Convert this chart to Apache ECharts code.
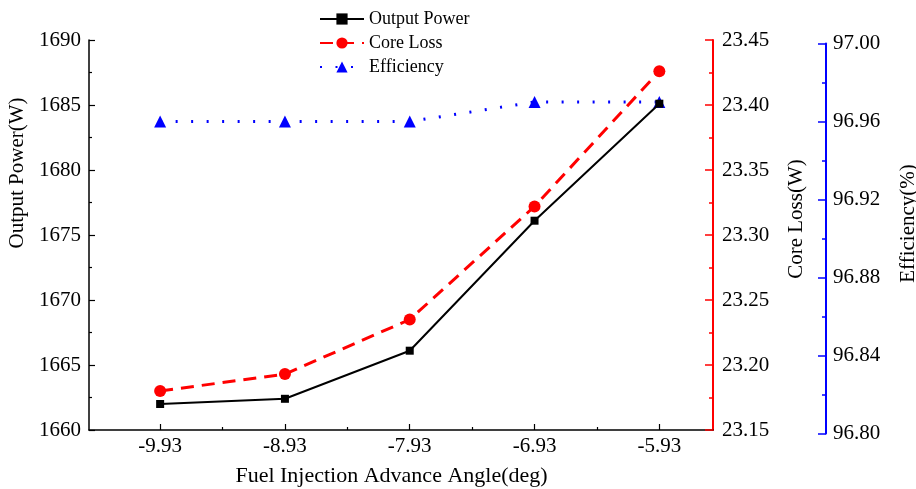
<!DOCTYPE html>
<html>
<head>
<meta charset="utf-8">
<script src="https://cdn.jsdelivr.net/npm/echarts@6/dist/echarts.min.js"></script>
<style>html,body{margin:0;padding:0;background:#fff;}#c{width:916px;height:489px;}</style>
</head>
<body>
<div id="c"></div>
<script>
const angles = [-9.93, -8.93, -7.93, -6.93, -5.93];
const outputPower = [1662.0, 1662.4, 1666.1, 1676.1, 1685.1];
const coreLoss = [23.180, 23.193, 23.235, 23.322, 23.426];
const efficiency = [96.960, 96.960, 96.960, 96.970, 96.970];
const minorAngles = [-9.43, -8.43, -7.43, -6.43];

const FONT = '"Liberation Serif", "Times New Roman", serif';
const pair = (vals) => angles.map((a, i) => [a, vals[i]]);

const chart = echarts.init(document.getElementById('c'), null, {renderer: 'canvas'});

chart.setOption({
  animation: false,
  backgroundColor: '#fff',
  textStyle: {fontFamily: FONT},
  legend: {
    orient: 'vertical', left: 314, top: 5, itemGap: 6,
    itemWidth: 44, itemHeight: 14,
    textStyle: {fontFamily: FONT, fontSize: 18, color: '#000'},
    data: ['Output Power', 'Core Loss', 'Efficiency']
  },
  grid: [
    {left: 89, right: 203, top: 40, bottom: 59, containLabel: false, outerBoundsMode: 'none'},
    {left: 89, right: 203, top: 43.5, bottom: 55.5, containLabel: false, outerBoundsMode: 'none'}
  ],
  xAxis: [
    {
      type: 'value', gridIndex: 0, min: -10.5, max: -5.5, position: 'bottom',
      name: 'Fuel Injection Advance Angle(deg)', nameLocation: 'middle', nameGap: 35,
      nameTextStyle: {fontFamily: FONT, fontSize: 22, color: '#000', padding: [0, 19, 0, 0]},
      axisLine: {show: true, onZero: false, lineStyle: {color: '#000', width: 1.5}},
      axisTick: {show: true, inside: true, length: 6, customValues: angles, lineStyle: {color: '#000', width: 1.2}},
      axisLabel: {customValues: angles, margin: 6, color: '#000', fontFamily: FONT, fontSize: 21},
      splitLine: {show: false}
    },
    {
      type: 'value', gridIndex: 0, min: -10.5, max: -5.5, position: 'bottom',
      axisLine: {show: false},
      axisTick: {show: true, inside: true, length: 3, customValues: minorAngles, lineStyle: {color: '#000', width: 1.2}},
      axisLabel: {show: false},
      splitLine: {show: false}
    },
    {
      type: 'value', gridIndex: 1, min: -10.5, max: -5.5, show: false
    }
  ],
  yAxis: [
    {
      type: 'value', gridIndex: 0, min: 1660, max: 1690, interval: 5, position: 'left',
      name: 'Output Power(W)', nameLocation: 'middle', nameGap: 57,
      nameTextStyle: {fontFamily: FONT, fontSize: 21, color: '#000', padding: [0, 0, 0, 124]},
      axisLine: {show: true, onZero: false, lineStyle: {color: '#000', width: 1.5}},
      axisTick: {show: true, inside: true, length: 6, lineStyle: {color: '#000', width: 1.2}},
      minorTick: {show: true, splitNumber: 2, length: 3, lineStyle: {color: '#000', width: 1.2}},
      axisLabel: {margin: 8, color: '#000', fontFamily: FONT, fontSize: 21, formatter: v => String(v)},
      splitLine: {show: false}, minorSplitLine: {show: false}
    },
    {
      type: 'value', gridIndex: 0, min: 23.15, max: 23.45, interval: 0.05, position: 'right',
      name: 'Core Loss(W)', nameLocation: 'middle', nameGap: 73,
      nameTextStyle: {fontFamily: FONT, fontSize: 21, color: '#000', padding: [0, 0, 0, 32]},
      axisLine: {show: true, onZero: false, lineStyle: {color: '#ff0000', width: 2}},
      axisTick: {show: true, inside: true, length: 8, lineStyle: {color: '#ff0000', width: 1.5}},
      minorTick: {show: true, splitNumber: 2, length: 4, lineStyle: {color: '#ff0000', width: 1.5}},
      axisLabel: {margin: 9, color: '#000', fontFamily: FONT, fontSize: 21, formatter: v => v.toFixed(2)},
      splitLine: {show: false}, minorSplitLine: {show: false}
    },
    {
      type: 'value', gridIndex: 1, min: 96.80, max: 97.00, interval: 0.04, position: 'right', offset: 113,
      name: 'Efficiency(%)', nameLocation: 'middle', nameGap: 72,
      nameTextStyle: {fontFamily: FONT, fontSize: 21, color: '#000', padding: [0, 0, 0, 30]},
      axisLine: {show: true, onZero: false, lineStyle: {color: '#0000ff', width: 2}},
      axisTick: {show: true, inside: true, length: 8, lineStyle: {color: '#0000ff', width: 1.5}},
      minorTick: {show: true, splitNumber: 2, length: 4, lineStyle: {color: '#0000ff', width: 1.5}},
      axisLabel: {margin: 7, color: '#000', fontFamily: FONT, fontSize: 21, formatter: v => v.toFixed(2)},
      splitLine: {show: false}, minorSplitLine: {show: false}
    }
  ],
  series: [
    {
      name: 'Output Power', type: 'line', xAxisIndex: 0, yAxisIndex: 0,
      data: pair(outputPower),
      symbol: 'rect', symbolSize: 8,
      itemStyle: {color: '#000'},
      lineStyle: {color: '#000', width: 2, type: 'solid'},
      z: 3
    },
    {
      name: 'Core Loss', type: 'line', xAxisIndex: 0, yAxisIndex: 1,
      data: pair(coreLoss),
      symbol: 'circle', symbolSize: 12,
      itemStyle: {color: '#ff0000'},
      lineStyle: {color: '#ff0000', width: 3, type: [13, 8]},
      z: 2
    },
    {
      name: 'Efficiency', type: 'line', xAxisIndex: 2, yAxisIndex: 2,
      data: pair(efficiency),
      symbol: 'triangle', symbolSize: 12,
      itemStyle: {color: '#0000ff'},
      lineStyle: {color: '#0000ff', width: 3, type: [2, 13.5]},
      z: 2
    }
  ]
});
</script>
</body>
</html>
